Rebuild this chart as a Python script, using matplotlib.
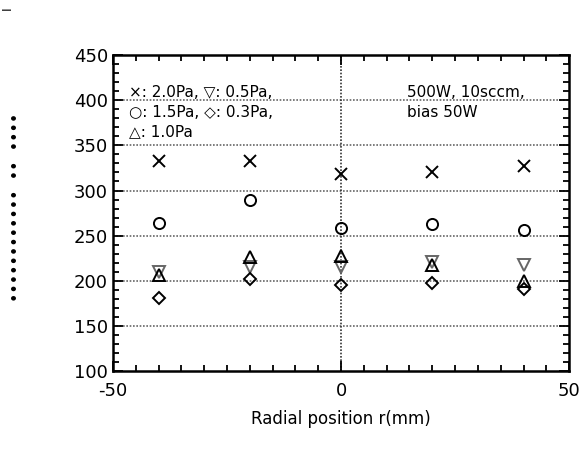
import matplotlib
matplotlib.use("Agg")
import matplotlib.pyplot as plt
from matplotlib.ticker import MultipleLocator

# ===============================
# Data
# ===============================
r_pos = [-40, -20, 0, 20, 40]

p_20 = [333, 333, 318, 321, 327]   # x : 2.0 Pa
p_15 = [264, 289, 258, 263, 256]   # o : 1.5 Pa
p_10 = [207, 226, 228, 218, 200]   # ^ : 1.0 Pa
p_05 = [210, 215, 215, 221, 218]   # v : 0.5 Pa
p_03 = [181, 202, 195, 198, 191]   # d : 0.3 Pa

plt.rcParams['font.family'] = ['DejaVu Sans']
plt.rcParams['axes.unicode_minus'] = False

fig = plt.figure(figsize=(5.79, 4.51), dpi=100)
ax = fig.add_axes([0.195, 0.177, 0.788, 0.701])

# grid lines (only at major ticks, vertical at 0)
for yv in [150, 200, 250, 300, 350, 400]:
    ax.axhline(yv, color="#666666", linestyle=(0, (1, 1)), linewidth=1.2, zorder=1)
ax.axvline(0, color="#333333", linestyle=(0, (1, 1)), linewidth=1.2, zorder=1)

mk = dict(linestyle="none", fillstyle="none", markeredgewidth=1.4, zorder=3)
ax.plot(r_pos, p_20, marker="x", color="black", markersize=8, **mk)
ax.plot(r_pos, p_15, marker="o", color="black", markersize=8, **mk)
ax.plot(r_pos, p_05, marker="v", color="#666666", markersize=8, **mk)
ax.plot(r_pos, p_10, marker="^", color="black", markersize=8, **mk)
ax.plot(r_pos, p_03, marker="D", color="black", markersize=6.5, **mk)

ax.set_xlim(-50, 50)
ax.set_ylim(100, 450)
ax.xaxis.set_major_locator(MultipleLocator(50))
ax.xaxis.set_minor_locator(MultipleLocator(5))
ax.yaxis.set_major_locator(MultipleLocator(50))
ax.yaxis.set_minor_locator(MultipleLocator(10))
ax.tick_params(which="both", direction="in", top=True, right=True, width=1.3)
ax.tick_params(which="major", length=7, labelsize=13)
ax.tick_params(which="minor", length=4)
ax.tick_params(axis="x", pad=8)
for s in ax.spines.values():
    s.set_linewidth(1.8)

ax.set_xlabel("Radial position r(mm)", fontsize=12, labelpad=7)

# legend-like text
ax.text(0.035, 0.905, "×: 2.0Pa, ▽: 0.5Pa,\n○: 1.5Pa, ◇: 0.3Pa,\n△: 1.0Pa",
        transform=ax.transAxes, fontsize=11, va="top", ha="left", linespacing=1.4)
ax.text(0.645, 0.905, "500W, 10sccm,\nbias 50W",
        transform=ax.transAxes, fontsize=11, va="top", ha="left", linespacing=1.4)

# garbled y label from the original (rendered as dots)
fig.text(0.028, 0.54, "••••••••••••" + "  " + "••" + "  " + "••••", rotation=90,
         fontsize=11.5, va="center", ha="center")
fig.text(0.012, 0.985, "I", rotation=90, fontsize=9, va="top", ha="center")

plt.savefig("out.png", dpi=100)
